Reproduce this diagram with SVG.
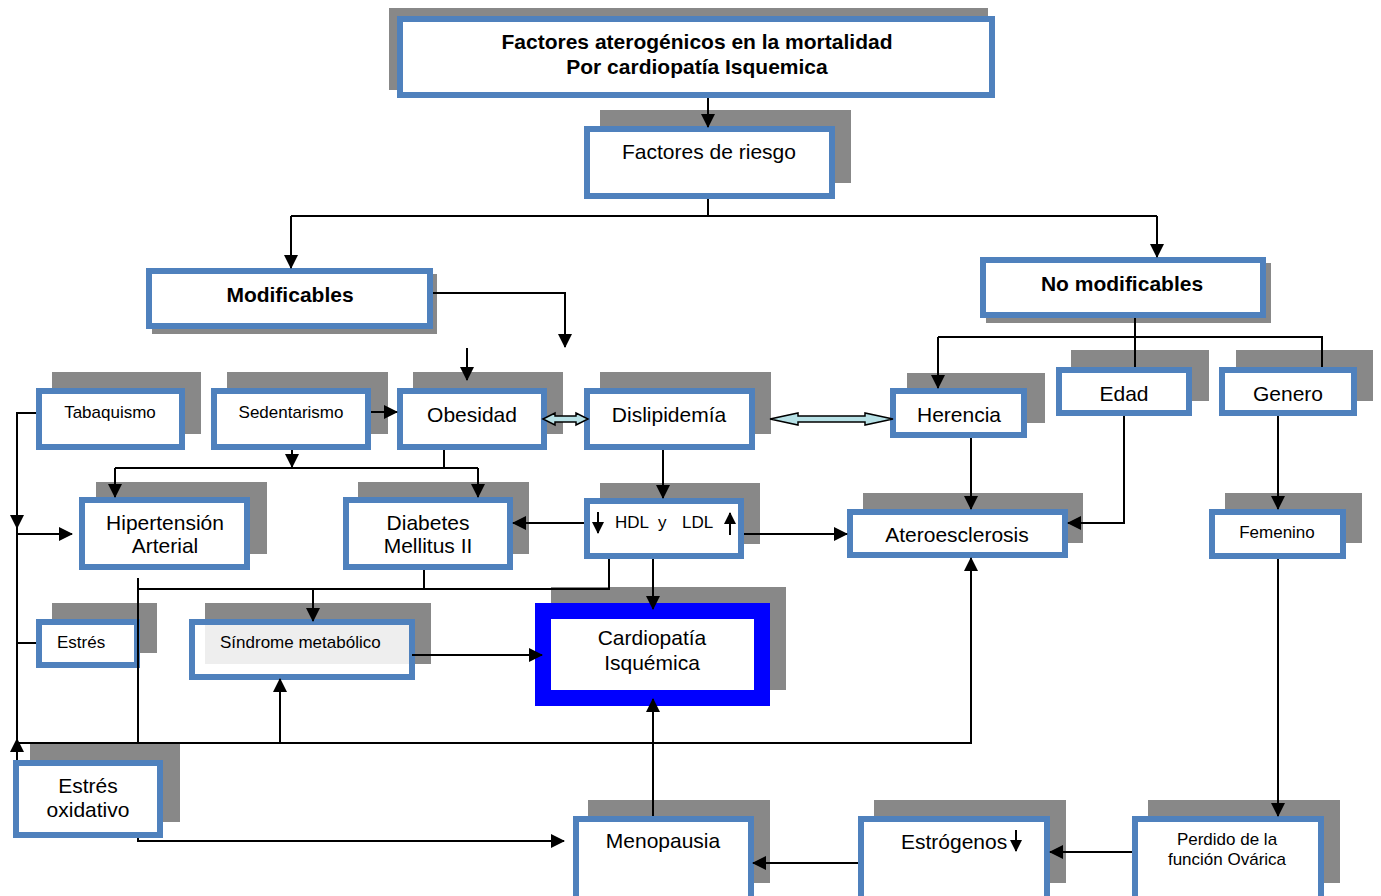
<svg xmlns="http://www.w3.org/2000/svg" width="1381" height="896" viewBox="0 0 1381 896">
<defs>
<style>
.sh{fill:#888888;}
.bx{fill:#ffffff;stroke:#4f81bd;stroke-width:6;}
.t{font-family:"Liberation Sans",Arial,sans-serif;fill:#000;text-anchor:middle;}
.tl{font-family:"Liberation Sans",Arial,sans-serif;fill:#000;}
.b{font-weight:bold;}
.f21{font-size:21px;}
.f17{font-size:17px;}
.ln{fill:none;stroke:#000;stroke-width:2;}
.ar{fill:none;stroke:#000;stroke-width:2;marker-end:url(#arr);}
.ars{fill:none;stroke:#000;stroke-width:2;marker-end:url(#arrs);}
.dbl{fill:#b7e1e6;stroke:#000;stroke-width:1.5;}
</style>
<marker id="arr" viewBox="0 0 14 14" refX="13" refY="7" markerWidth="14" markerHeight="14" markerUnits="userSpaceOnUse" orient="auto"><path d="M0,0 L14,7 L0,14 z" fill="#000"/></marker>
<marker id="arrs" viewBox="0 0 12 12" refX="11" refY="6" markerWidth="12" markerHeight="12" markerUnits="userSpaceOnUse" orient="auto"><path d="M0,0 L12,6 L0,12 z" fill="#000"/></marker>
</defs>
<rect width="1381" height="896" fill="#ffffff"/>

<g id="title">
<rect class="sh" x="389" y="8" width="599" height="82"/>
<rect class="bx" x="400" y="19" width="592" height="76"/>
<text class="t b f21" x="697" y="49">Factores aterogénicos en la mortalidad</text>
<text class="t b f21" x="697" y="74">Por cardiopatía Isquemica</text>
</g>
<g id="factores">
<rect class="sh" x="600" y="110" width="251" height="73"/>
<rect class="bx" x="587" y="129" width="245" height="67"/>
<text class="t f21" x="709" y="159">Factores de riesgo</text>
</g>
<g id="modificables">
<rect class="sh" x="152" y="274" width="285" height="60"/>
<rect class="bx" x="149" y="271" width="281" height="55"/>
<text class="t b f21" x="290" y="302">Modificables</text>
</g>
<g id="nomodificables">
<rect class="sh" x="986" y="263" width="285" height="60"/>
<rect class="bx" x="983" y="260" width="280" height="55"/>
<text class="t b f21" x="1122" y="291">No modificables</text>
</g>
<g id="tabaquismo">
<rect class="sh" x="52" y="372" width="149" height="62"/>
<rect class="bx" x="39" y="391" width="143" height="56"/>
<text class="t f17" x="110" y="418">Tabaquismo</text>
</g>
<g id="sedentarismo">
<rect class="sh" x="227" y="372" width="161" height="62"/>
<rect class="bx" x="214" y="391" width="154" height="56"/>
<text class="t f17" x="291" y="418">Sedentarismo</text>
</g>
<g id="obesidad">
<rect class="sh" x="413" y="372" width="150" height="62"/>
<rect class="bx" x="400" y="391" width="144" height="56"/>
<text class="t f21" x="472" y="422">Obesidad</text>
</g>
<g id="dislipidemia">
<rect class="sh" x="600" y="372" width="171" height="62"/>
<rect class="bx" x="587" y="391" width="165" height="56"/>
<text class="t f21" x="669" y="422">Dislipidemía</text>
</g>
<g id="herencia">
<rect class="sh" x="907" y="373" width="138" height="50"/>
<rect class="bx" x="893" y="391" width="131" height="44"/>
<text class="t f21" x="959" y="422">Herencia</text>
</g>
<g id="edad">
<rect class="sh" x="1071" y="350" width="138" height="51"/>
<rect class="bx" x="1059" y="370" width="130" height="43"/>
<text class="t f21" x="1124" y="401">Edad</text>
</g>
<g id="genero">
<rect class="sh" x="1236" y="350" width="137" height="51"/>
<rect class="bx" x="1222" y="370" width="132" height="43"/>
<text class="t f21" x="1288" y="401">Genero</text>
</g>
<g id="hipertension">
<rect class="sh" x="96" y="482" width="171" height="72"/>
<rect class="bx" x="82" y="500" width="165" height="67"/>
<text class="t f21" x="165" y="530">Hipertensión</text>
<text class="t f21" x="165" y="553">Arterial</text>
</g>
<g id="diabetes">
<rect class="sh" x="358" y="482" width="171" height="72"/>
<rect class="bx" x="346" y="500" width="164" height="67"/>
<text class="t f21" x="428" y="530">Diabetes</text>
<text class="t f21" x="428" y="553">Mellitus II</text>
</g>
<g id="hdl">
<rect class="sh" x="600" y="483" width="160" height="61"/>
<rect class="bx" x="587" y="501" width="154" height="55"/>
<text class="tl f17" y="528"><tspan x="615">HDL</tspan><tspan x="658">y</tspan><tspan x="682">LDL</tspan></text>
<path class="ars" d="M598,512 V533"/>
<path class="ars" d="M730,535 V513"/>
</g>
<g id="ateroesclerosis">
<rect class="sh" x="863" y="493" width="220" height="50"/>
<rect class="bx" x="850" y="512" width="215" height="43"/>
<text class="t f21" x="957" y="542">Ateroesclerosis</text>
</g>
<g id="femenino">
<rect class="sh" x="1225" y="493" width="137" height="50"/>
<rect class="bx" x="1212" y="512" width="131" height="44"/>
<text class="t f17" x="1277" y="538">Femenino</text>
</g>
<g id="estres">
<rect class="sh" x="52" y="603" width="105" height="50"/>
<rect class="bx" x="39" y="622" width="98" height="43"/>
<text class="tl f17" x="57" y="648">Estrés</text>
</g>
<g id="sindrome">
<rect class="sh" x="205" y="603" width="226" height="61"/>
<rect class="bx" x="192" y="622" width="220" height="55"/>
<rect x="205" y="625" width="204" height="39" fill="#eeeeee"/>
<text class="tl f17" x="220" y="648">Síndrome metabólico</text>
</g>
<g id="cardiopatia">
<rect class="sh" x="551" y="587" width="235" height="103"/>
<rect x="543" y="611" width="219" height="87" fill="#ffffff" stroke="#0000ff" stroke-width="16"/>
<text class="t f21" x="652" y="645">Cardiopatía</text>
<text class="t f21" x="652" y="670">Isquémica</text>
</g>
<g id="estresoxidativo">
<rect class="sh" x="30" y="743" width="150" height="79"/>
<rect class="bx" x="16" y="763" width="144" height="72"/>
<text class="t f21" x="88" y="793">Estrés</text>
<text class="t f21" x="88" y="817">oxidativo</text>
</g>
<g id="menopausia">
<rect class="sh" x="588" y="800" width="182" height="83"/>
<rect class="bx" x="576" y="819" width="175" height="80"/>
<text class="t f21" x="663" y="848">Menopausia</text>
</g>
<g id="estrogenos">
<rect class="sh" x="874" y="800" width="192" height="83"/>
<rect class="bx" x="861" y="819" width="186" height="80"/>
<text class="tl f21" x="901" y="849">Estrógenos</text>
<path class="ars" d="M1016,830 V851"/>
</g>
<g id="perdido">
<rect class="sh" x="1148" y="800" width="192" height="83"/>
<rect class="bx" x="1135" y="819" width="186" height="80"/>
<text class="t f17" x="1227" y="845">Perdido de la</text>
<text class="t f17" x="1227" y="865">función Ovárica</text>
</g>

<g id="connectors">
<path class="ar" d="M708,98 V127"/>
<path class="ln" d="M708,199 V216 M291,216 H1157"/>
<path class="ar" d="M291,216 V268"/>
<path class="ar" d="M1157,216 V257"/>
<path class="ar" d="M433,293 H565 V347"/>
<path class="ar" d="M467,348 V380"/>
<path class="ln" d="M1135,318 V367 M938,337 H1322 V367"/>
<path class="ar" d="M938,337 V388"/>
<path class="ar" d="M371,412 H397"/>
<path class="ar" d="M292,450 V467"/>
<path class="ln" d="M115,468 H478 M444,450 V468"/>
<path class="ar" d="M115,468 V497"/>
<path class="ar" d="M478,468 V497"/>
<path class="ar" d="M663,450 V498"/>
<path class="ar" d="M584,523 H513"/>
<path class="ar" d="M744,534 H847"/>
<path class="ar" d="M971,438 V509"/>
<path class="ar" d="M1124,416 V523 H1068"/>
<path class="ar" d="M1278,416 V509"/>
<path class="ar" d="M1278,559 V816"/>
<path class="ar" d="M36,413 H17 V528"/>
<path class="ln" d="M17,528 V743 M36,643 H17"/>
<path class="ar" d="M17,534 H72"/>
<path class="ar" d="M17,760 V739"/>
<path class="ar" d="M17,743 H971 V558"/>
<path class="ar" d="M280,743 V679"/>
<path class="ln" d="M138,578 V743"/>
<path class="ar" d="M138,838 V841 H564"/>
<path class="ln" d="M138,589 H609 V559 M424,570 V589"/>
<path class="ar" d="M313,589 V621"/>
<path class="ar" d="M653,559 V609"/>
<path class="ar" d="M412,655 H542"/>
<path class="ar" d="M653,816 V699"/>
<path class="ar" d="M858,863 H753"/>
<path class="ar" d="M1132,852 H1050"/>
<path class="dbl" d="M543,419 L555,413 L555,416 L576,416 L576,413 L588,419 L576,425 L576,422 L555,422 L555,425 Z"/>
<path class="dbl" d="M770,419 L798,413 L798,416 L865,416 L865,413 L893,419 L865,425 L865,422 L798,422 L798,425 Z"/>
</g>
</svg>
